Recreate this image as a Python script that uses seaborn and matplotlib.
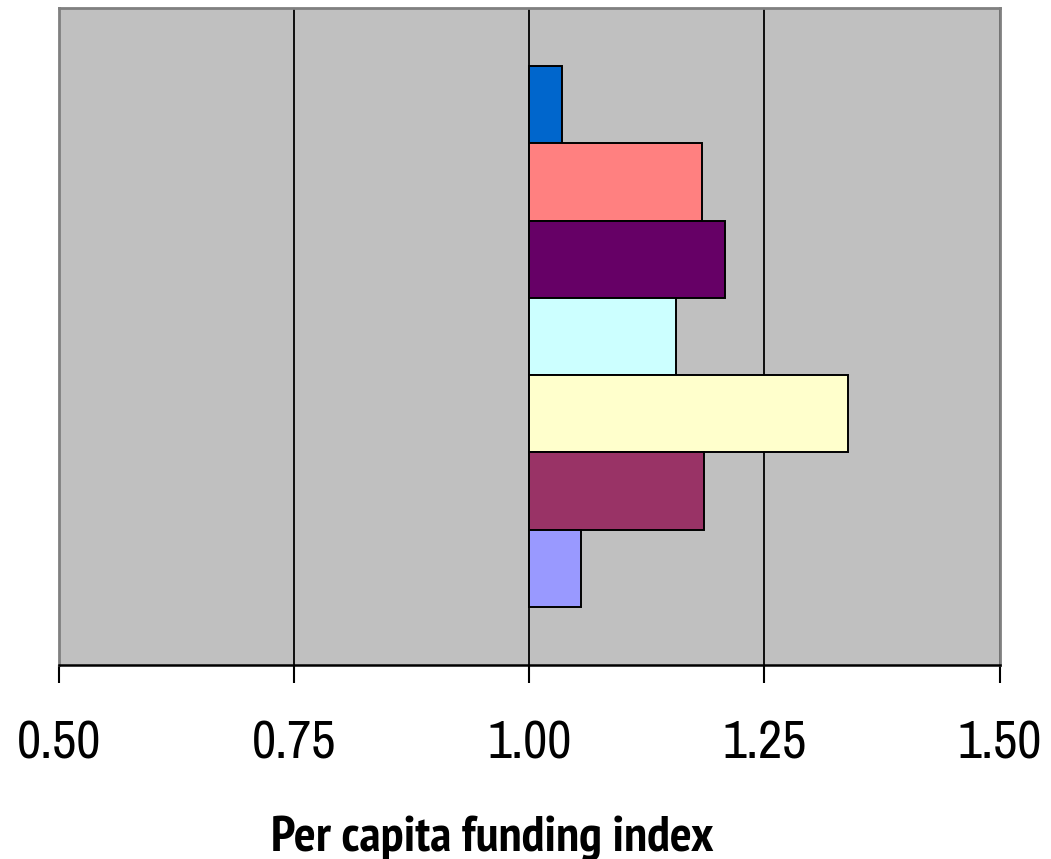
import matplotlib
matplotlib.use("Agg")
import matplotlib.pyplot as plt
import seaborn as sns
import pandas as pd

# Per capita funding index for each group (1.00 = national average)
groups = ["Group 1", "Group 2", "Group 3", "Group 4", "Group 5", "Group 6", "Group 7"]
index_values = [1.035, 1.183, 1.208, 1.156, 1.339, 1.186, 1.055]
bar_colors = ["#0066CC", "#FF8080", "#660066", "#CCFFFF", "#FFFFCC", "#993366", "#9999FF"]
x_ticks = [0.50, 0.75, 1.00, 1.25, 1.50]
x_tick_labels = ["0.50", "0.75", "1.00", "1.25", "1.50"]
baseline = 1.0

df = pd.DataFrame({
    "category": ["All"] * len(groups),
    "group": groups,
    "index": index_values,
})
# bars grow out of the 1.00 baseline
df["offset"] = df["index"] - baseline

sns.set_theme(style="white")
plt.rcParams["font.family"] = ["Archivo Narrow", "Liberation Sans", "DejaVu Sans"]
plt.rcParams["text.color"] = "black"
plt.rcParams["axes.labelcolor"] = "black"
plt.rcParams["xtick.color"] = "black"

fig = plt.figure(figsize=(10.51, 8.59), dpi=100)
ax = fig.add_axes([0.0566, 0.2258, 0.8944, 0.7649])
ax.set_facecolor("#C0C0C0")

sns.barplot(
    data=df, x="offset", y="category", hue="group",
    hue_order=groups, palette=bar_colors, orient="h",
    width=0.823, errorbar=None, legend=False,
    left=baseline, edgecolor="black", linewidth=1.4,
    saturation=1, ax=ax, zorder=3,
)

ax.set_xlim(0.5, 1.5)
ax.set_ylim(0.5, -0.5)
ax.set_xticks(x_ticks)
ax.set_xticklabels(x_tick_labels, fontsize=38)
ax.set_yticks([])
ax.set_ylabel("")
ax.set_xlabel("Per capita funding index", fontsize=37, fontweight="bold",
              family=["PT Sans Narrow", "Roboto Condensed", "Liberation Sans", "DejaVu Sans"])
ax.xaxis.set_label_coords(0.46, -0.283)
ax.xaxis.label.set_va("baseline")

ax.grid(axis="x", color="black", linewidth=1.3, zorder=1)
ax.set_axisbelow(True)

for side in ["left", "top", "right"]:
    ax.spines[side].set_color("#808080")
    ax.spines[side].set_linewidth(2)
ax.spines["bottom"].set_color("black")
ax.spines["bottom"].set_linewidth(1.8)

ax.tick_params(axis="x", direction="out", length=13, width=1.5, color="black",
               pad=26, bottom=True)

fig.savefig("out.png", dpi=100)
